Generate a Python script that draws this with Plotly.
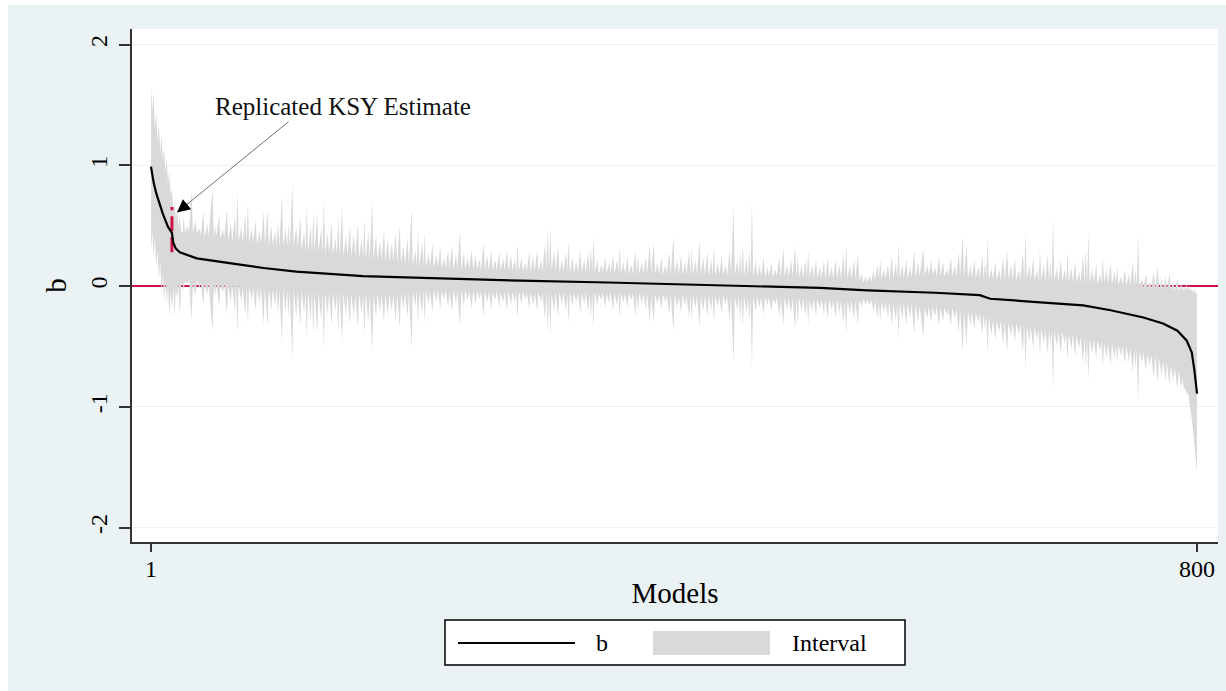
import plotly.graph_objects as go

# ---------------- data ----------------
x_ticks = [1, 800]
y_ticks = [-2, -1, 0, 1, 2]
y_tick_text = ["-2", "-1", "0", "1", "2"]

b_models = [1, 3, 5, 8, 10, 14, 16, 17, 18, 20, 23, 30, 36, 61, 87, 112, 138, 163, 189,
            216, 283, 350, 450, 512, 548, 600, 634, 642, 675, 713, 734, 759, 774, 785,
            792, 796, 798, 800]
b_values = [0.99, 0.86, 0.77, 0.67, 0.60, 0.49, 0.46, 0.44, 0.36, 0.31, 0.28, 0.25, 0.23,
            0.19, 0.15, 0.12, 0.10, 0.083, 0.075, 0.065, 0.045, 0.03, 0.005, -0.015,
            -0.035, -0.055, -0.075, -0.105, -0.13, -0.16, -0.20, -0.26, -0.31, -0.37,
            -0.45, -0.55, -0.70, -0.89]

# interval: first models (every model)
head_models = list(range(1, 26))
head_upper = [1.67, 1.45, 1.60, 1.30, 1.45, 1.20, 1.35, 1.10, 1.25, 1.05, 1.15, 0.95, 1.05,
              0.85, 0.95, 0.75, 0.80, 0.62, 0.70, 0.55, 0.65, 0.48, 0.60, 0.45, 0.44]
head_lower = [0.30, 0.45, 0.25, 0.40, 0.15, 0.30, 0.05, 0.20, -0.05, 0.10, -0.12, 0.05,
              -0.15, 0.00, -0.25, -0.05, -0.20, 0.00, -0.26, -0.02, -0.10, 0.02, -0.25,
              0.00, 0.03]

# interval: models with a wide interval (spikes)
spike_models = [
    26, 29, 32, 35, 38, 41, 44, 48, 50, 53, 56, 59, 62, 65, 67, 70, 73, 75, 78, 81, 84, 87,
    90, 93, 96, 98, 101,
    104, 106, 109, 112, 115, 118, 120, 123, 125, 128, 131, 133, 136, 139, 142, 144, 147,
    150, 153, 156, 159, 162, 164, 167, 170, 173, 176, 179, 182, 185, 188, 191, 194, 197, 200,
    203, 205, 208, 210, 213, 216, 219, 222, 225, 228, 231, 234, 237, 240, 243, 246, 249,
    252, 255, 258, 261, 264, 267, 270, 273, 276, 279, 281, 284, 287, 290, 293, 296, 299,
    302, 304, 306, 309, 312, 315, 318, 320, 323, 326, 329, 332, 335, 337, 339, 342, 345,
    348, 351, 354, 357, 359, 362, 365, 368, 371, 373, 376, 379, 382,
    385, 388, 391, 394, 397, 400, 403, 406, 409, 412, 414, 417, 420, 423, 426, 429, 431,
    434, 437, 440, 443, 446, 449, 451, 453, 456, 458, 460, 463, 466, 469, 472, 475, 478,
    481, 484, 487, 490, 493, 495, 498, 501, 503, 506, 509, 512, 515, 518, 521, 524, 527,
    530, 532, 535, 538, 541, 544, 547, 550, 553, 556, 558, 561, 564, 567, 570, 572, 575,
    578, 581, 584, 587,
    591, 594, 597, 600, 603, 606, 609, 612, 615, 618, 621, 624, 627, 630, 633, 636, 638,
    640, 643, 646, 649, 652, 655, 658, 661, 664, 667, 669, 672, 675, 678, 680, 683, 686,
    688, 690, 693, 696, 699, 701, 704, 707, 710, 713, 715, 717, 720, 723, 726, 728, 731,
    734, 737, 739, 742, 745, 748, 751, 753, 755, 758, 761, 764, 767, 770, 773, 776, 779,
    782, 785, 788]
spike_upper = [
    0.58, 0.50, 0.80, 0.55, 0.48, 0.62, 0.52, 0.82, 0.50, 0.60, 0.47, 0.64, 0.52, 0.58,
    0.78, 0.50, 0.60, 0.68, 0.48, 0.55, 0.46, 0.62, 0.63, 0.50, 0.45, 0.55, 0.74,
    0.48, 0.52, 0.86, 0.50, 0.58, 0.45, 0.66, 0.50, 0.62, 0.60, 0.48, 0.72, 0.44, 0.52,
    0.40, 0.58, 0.66, 0.42, 0.50, 0.44, 0.52, 0.40, 0.56, 0.46, 0.71, 0.42, 0.38, 0.46,
    0.40, 0.36, 0.44, 0.50, 0.34, 0.40, 0.65,
    0.30, 0.46, 0.36, 0.44, 0.28, 0.35, 0.26, 0.32, 0.24, 0.30, 0.34, 0.26, 0.46, 0.28,
    0.24, 0.30, 0.26, 0.22, 0.36, 0.25, 0.30, 0.22, 0.28, 0.24, 0.30, 0.26, 0.22, 0.36,
    0.24, 0.20, 0.28, 0.25, 0.30, 0.22, 0.36, 0.46, 0.50, 0.30, 0.34, 0.22, 0.28, 0.38,
    0.24, 0.20, 0.30, 0.22, 0.28, 0.32, 0.41, 0.22, 0.18, 0.24, 0.20, 0.26, 0.22, 0.33,
    0.20, 0.24, 0.18, 0.30, 0.26, 0.20, 0.24, 0.35,
    0.36, 0.20, 0.24, 0.18, 0.28, 0.42, 0.22, 0.26, 0.20, 0.30, 0.33, 0.22, 0.38, 0.24,
    0.28, 0.22, 0.33, 0.20, 0.26, 0.18, 0.30, 0.66, 0.22, 0.30, 0.36, 0.24, 0.30, 0.70,
    0.22, 0.18, 0.24, 0.16, 0.20, 0.14, 0.24, 0.32, 0.18, 0.22, 0.34, 0.26, 0.18, 0.22,
    0.30, 0.18, 0.22, 0.16, 0.20, 0.24, 0.16, 0.22, 0.18, 0.26, 0.34, 0.18, 0.22, 0.26,
    0.10, 0.08, 0.09, 0.14, 0.18, 0.22, 0.14, 0.18, 0.25, 0.20, 0.35, 0.18, 0.22, 0.16,
    0.30, 0.20,
    0.31, 0.18, 0.22, 0.16, 0.25, 0.20, 0.14, 0.24, 0.18, 0.28, 0.42, 0.35, 0.18, 0.22,
    0.16, 0.26, 0.20, 0.40, 0.15, 0.20, 0.14, 0.24, 0.30, 0.18, 0.22, 0.14, 0.28, 0.45,
    0.18, 0.24, 0.14, 0.30, 0.18, 0.26, 0.20, 0.57, 0.16, 0.22, 0.14, 0.28, 0.16, 0.20,
    0.12, 0.26, 0.30, 0.45, 0.14, 0.18, 0.10, 0.25, 0.14, 0.20, 0.12, 0.16, 0.08, 0.14,
    0.10, 0.20, 0.14, 0.44, 0.06, 0.10, 0.04, 0.12, 0.16, 0.06, 0.08, 0.10, 0.04, 0.06,
    0.02]
spike_lower = [
    -0.04, 0.02, -0.28, -0.08, -0.02, -0.16, -0.07, -0.38, -0.08, -0.18, -0.05, -0.24,
    -0.13, -0.20, -0.40, -0.13, -0.24, -0.32, -0.12, -0.21, -0.14, -0.32, -0.33, -0.20,
    -0.16, -0.26, -0.46,
    -0.22, -0.26, -0.60, -0.26, -0.34, -0.22, -0.43, -0.28, -0.40, -0.39, -0.28, -0.52,
    -0.24, -0.32, -0.21, -0.39, -0.47, -0.24, -0.32, -0.26, -0.35, -0.23, -0.40, -0.30,
    -0.55, -0.26, -0.22, -0.30, -0.25, -0.21, -0.29, -0.35, -0.19, -0.26, -0.51,
    -0.17, -0.32, -0.23, -0.31, -0.15, -0.22, -0.13, -0.19, -0.11, -0.18, -0.22, -0.14,
    -0.34, -0.16, -0.12, -0.19, -0.15, -0.11, -0.25, -0.14, -0.20, -0.12, -0.18, -0.14,
    -0.20, -0.16, -0.13, -0.27, -0.15, -0.11, -0.19, -0.16, -0.21, -0.14, -0.28, -0.38,
    -0.42, -0.22, -0.26, -0.15, -0.21, -0.31, -0.17, -0.13, -0.23, -0.15, -0.21, -0.26,
    -0.35, -0.16, -0.12, -0.18, -0.14, -0.20, -0.16, -0.27, -0.14, -0.18, -0.12, -0.25,
    -0.21, -0.15, -0.19, -0.30,
    -0.31, -0.15, -0.19, -0.13, -0.23, -0.38, -0.18, -0.22, -0.16, -0.26, -0.29, -0.18,
    -0.34, -0.21, -0.25, -0.19, -0.30, -0.17, -0.23, -0.15, -0.28, -0.64, -0.20, -0.28,
    -0.34, -0.22, -0.29, -0.69, -0.21, -0.18, -0.24, -0.16, -0.21, -0.15, -0.25, -0.33,
    -0.20, -0.23, -0.36, -0.32, -0.20, -0.24, -0.32, -0.21, -0.25, -0.19, -0.23, -0.27,
    -0.20, -0.26, -0.22, -0.31, -0.40, -0.23, -0.28, -0.32, -0.17, -0.15, -0.16, -0.21,
    -0.26, -0.30, -0.22, -0.26, -0.33, -0.29, -0.44, -0.27, -0.32, -0.26, -0.40, -0.30,
    -0.42, -0.27, -0.30, -0.25, -0.33, -0.29, -0.24, -0.33, -0.27, -0.38, -0.56, -0.48,
    -0.32, -0.36, -0.30, -0.40, -0.36, -0.57, -0.40, -0.44, -0.38, -0.48, -0.54, -0.42,
    -0.46, -0.40, -0.55, -0.70, -0.46, -0.52, -0.44, -0.58, -0.48, -0.56, -0.50, -0.86,
    -0.50, -0.56, -0.48, -0.62, -0.52, -0.58, -0.52, -0.64, -0.68, -0.78, -0.56, -0.60,
    -0.54, -0.68, -0.60, -0.66, -0.60, -0.64, -0.58, -0.64, -0.62, -0.72, -0.68, -0.95,
    -0.64, -0.70, -0.66, -0.76, -0.80, -0.74, -0.78, -0.82, -0.78, -0.85, -0.84]

# interval: the ordinary (narrow) models next to the spikes
base_models = [m + 1 for m in spike_models]
base_upper = [
    0.44, 0.45, 0.43, 0.44, 0.42, 0.40, 0.41, 0.40, 0.41, 0.39, 0.40, 0.38, 0.37, 0.38,
    0.37, 0.36, 0.37, 0.36, 0.36, 0.34, 0.35, 0.34, 0.33, 0.34, 0.33, 0.33, 0.33,
    0.32, 0.31, 0.32, 0.31, 0.30, 0.29, 0.29, 0.28, 0.29, 0.28, 0.28, 0.27, 0.27, 0.26,
    0.26, 0.25, 0.25, 0.25, 0.24, 0.24, 0.23, 0.23, 0.22, 0.22, 0.22, 0.21, 0.21, 0.21,
    0.20, 0.20, 0.19, 0.19, 0.18, 0.18, 0.17,
    0.16, 0.16, 0.16, 0.15, 0.16, 0.15, 0.16, 0.15, 0.15, 0.15, 0.14, 0.15, 0.14, 0.14,
    0.14, 0.14, 0.14, 0.13, 0.14, 0.13, 0.13, 0.13, 0.13, 0.13, 0.12, 0.13, 0.12, 0.12,
    0.12, 0.12, 0.12, 0.12, 0.12, 0.12, 0.13, 0.14, 0.13, 0.12, 0.11, 0.12, 0.12, 0.11,
    0.11, 0.11, 0.11, 0.11, 0.11, 0.11, 0.11, 0.10, 0.11, 0.10, 0.10, 0.10, 0.10, 0.10,
    0.10, 0.10, 0.10, 0.10, 0.10, 0.10, 0.10, 0.10,
    0.10, 0.10, 0.09, 0.10, 0.09, 0.10, 0.09, 0.09, 0.09, 0.09, 0.09, 0.09, 0.09, 0.09,
    0.09, 0.09, 0.09, 0.09, 0.09, 0.08, 0.09, 0.09, 0.08, 0.08, 0.08, 0.08, 0.08, 0.08,
    0.08, 0.08, 0.07, 0.08, 0.07, 0.08, 0.07, 0.08, 0.07, 0.08, 0.07, 0.07, 0.07, 0.07,
    0.07, 0.07, 0.07, 0.07, 0.06, 0.07, 0.06, 0.07, 0.06, 0.06, 0.06, 0.06, 0.06, 0.05,
    0.03, 0.03, 0.03, 0.05, 0.06, 0.06, 0.06, 0.06, 0.06, 0.06, 0.07, 0.06, 0.06, 0.07,
    0.07, 0.08,
    0.09, 0.09, 0.09, 0.08, 0.09, 0.08, 0.09, 0.08, 0.08, 0.08, 0.07, 0.07, 0.07, 0.07,
    0.07, 0.06, 0.06, 0.05, 0.05, 0.05, 0.05, 0.05, 0.05, 0.05, 0.05, 0.05, 0.05, 0.05,
    0.05, 0.05, 0.04, 0.05, 0.04, 0.04, 0.04, 0.04, 0.04, 0.04, 0.03, 0.03, 0.03, 0.03,
    0.03, 0.03, 0.03, 0.03, 0.03, 0.02, 0.02, 0.02, 0.02, 0.02, 0.02, 0.01, 0.01, 0.01,
    0.01, 0.00, 0.00, 0.00, -0.01, -0.01, -0.02, -0.02, -0.03, -0.03, -0.03, -0.03,
    -0.04, -0.04, -0.04]
base_lower = [
    0.04, 0.05, 0.03, 0.05, 0.03, 0.02, 0.03, 0.01, 0.02, 0.01, 0.02, 0.00, 0.01, 0.00,
    0.01, -0.01, 0.00, 0.00, -0.01, -0.02, -0.01, -0.02, -0.02, -0.03, -0.02, -0.03,
    -0.03,
    -0.03, -0.04, -0.03, -0.04, -0.04, -0.05, -0.04, -0.05, -0.05, -0.05, -0.06, -0.05,
    -0.06, -0.05, -0.06, -0.06, -0.06, -0.07, -0.06, -0.07, -0.06, -0.07, -0.06, -0.07,
    -0.07, -0.06, -0.07, -0.07, -0.06, -0.07, -0.06, -0.06, -0.05, -0.05, -0.04,
    -0.03, -0.04, -0.03, -0.03, -0.04, -0.03, -0.03, -0.04, -0.03, -0.04, -0.03, -0.04,
    -0.04, -0.03, -0.04, -0.04, -0.04, -0.04, -0.04, -0.04, -0.05, -0.04, -0.05, -0.05,
    -0.04, -0.05, -0.05, -0.04, -0.05, -0.05, -0.05, -0.05, -0.05, -0.05, -0.05, -0.06,
    -0.05, -0.05, -0.05, -0.05, -0.06, -0.05, -0.06, -0.05, -0.06, -0.05, -0.06, -0.06,
    -0.05, -0.06, -0.05, -0.06, -0.05, -0.06, -0.06, -0.05, -0.06, -0.06, -0.05, -0.06,
    -0.06, -0.06, -0.06, -0.07,
    -0.07, -0.07, -0.07, -0.08, -0.07, -0.07, -0.08, -0.07, -0.08, -0.07, -0.08, -0.07,
    -0.08, -0.08, -0.08, -0.08, -0.08, -0.08, -0.08, -0.08, -0.08, -0.09, -0.08, -0.09,
    -0.09, -0.09, -0.09, -0.09, -0.09, -0.09, -0.09, -0.09, -0.10, -0.09, -0.10, -0.09,
    -0.10, -0.10, -0.10, -0.10, -0.10, -0.10, -0.11, -0.10, -0.11, -0.11, -0.11, -0.11,
    -0.12, -0.11, -0.12, -0.12, -0.12, -0.12, -0.12, -0.12, -0.11, -0.11, -0.11, -0.12,
    -0.13, -0.13, -0.13, -0.13, -0.14, -0.14, -0.14, -0.14, -0.15, -0.15, -0.15, -0.16,
    -0.18, -0.17, -0.18, -0.17, -0.18, -0.18, -0.19, -0.18, -0.19, -0.20, -0.21, -0.21,
    -0.22, -0.22, -0.23, -0.23, -0.24, -0.26, -0.28, -0.29, -0.29, -0.30, -0.30, -0.31,
    -0.31, -0.32, -0.32, -0.33, -0.34, -0.34, -0.35, -0.35, -0.36, -0.36, -0.37, -0.37,
    -0.38, -0.38, -0.39, -0.40, -0.40, -0.41, -0.42, -0.42, -0.43, -0.44, -0.44, -0.45,
    -0.45, -0.46, -0.47, -0.47, -0.48, -0.49, -0.50, -0.50, -0.51, -0.52, -0.53, -0.54,
    -0.55, -0.56, -0.57, -0.58, -0.60, -0.62, -0.64, -0.66, -0.68, -0.71, -0.76]

# interval: last models (every model)
tail_models = list(range(790, 801))
tail_upper = [0.00, -0.04, 0.02, -0.04, 0.00, -0.04, -0.02, -0.05, -0.03, -0.06, -0.06]
tail_lower = [-0.86, -0.84, -0.90, -0.88, -0.95, -1.00, -1.10, -1.20, -1.32, -1.45, -1.55]

ksy_models = [17, 17]
ksy_interval = [0.28, 0.655]

assert len(head_models) == len(head_upper) == len(head_lower)
assert len(spike_models) == len(spike_upper) == len(spike_lower)
assert len(base_models) == len(base_upper) == len(base_lower)
assert len(tail_models) == len(tail_upper) == len(tail_lower)
assert len(b_models) == len(b_values)

# assemble the interval table sorted by model
rows = {}
for ms, us, ls in [(head_models, head_upper, head_lower),
                   (spike_models, spike_upper, spike_lower),
                   (base_models, base_upper, base_lower),
                   (tail_models, tail_upper, tail_lower)]:
    for m, u, l in zip(ms, us, ls):
        rows[m] = (u, l)
band_models = sorted(rows)
band_upper = [rows[m][0] for m in band_models]
band_lower = [rows[m][1] for m in band_models]

FONT = "Liberation Serif"
BG = "#EAF2F3"
RED = "#CC1448"
GREY = "#D9D9D9"

fig = go.Figure()

fig.add_trace(go.Scatter(
    x=band_models, y=band_lower, mode="lines", line=dict(width=0),
    hoverinfo="skip", showlegend=False, name="lower"))
fig.add_trace(go.Scatter(
    x=band_models, y=band_upper, mode="lines", line=dict(width=0),
    fill="tonexty", fillcolor=GREY, hoverinfo="skip", showlegend=False,
    name="Interval"))

fig.add_trace(go.Scatter(
    x=ksy_models, y=ksy_interval, mode="lines",
    line=dict(color=RED, width=3, dash="15px,6px"),
    name="KSY", showlegend=False))

fig.add_trace(go.Scatter(
    x=b_models, y=b_values, mode="lines",
    line=dict(color="black", width=2.2),
    name="b", showlegend=False))

shapes = [
    # white edge strips of the outer frame
    dict(type="rect", xref="paper", yref="paper", x0=-0.2, x1=-0.1142, y0=-0.4, y1=1.2,
         fillcolor="white", line=dict(width=0)),
    dict(type="rect", xref="paper", yref="paper", x0=-0.2, x1=1.2, y0=1.0468, y1=1.2,
         fillcolor="white", line=dict(width=0)),
    # legend frame and keys
    dict(type="rect", xref="paper", yref="paper", x0=0.2882, x1=0.7118, y0=-0.2398,
         y1=-0.1520, fillcolor="white", line=dict(color="black", width=1.5)),
    dict(type="line", xref="paper", yref="paper", x0=0.3002, x1=0.4079, y0=-0.1969,
         y1=-0.1969, line=dict(color="black", width=2)),
    dict(type="rect", xref="paper", yref="paper", x0=0.4797, x1=0.5875, y0=-0.2203,
         y1=-0.1735, fillcolor=GREY, line=dict(width=0)),
]

annotations = [
    dict(x=148, y=1.49, xref="x", yref="y", text="Replicated KSY Estimate",
         showarrow=False, xanchor="center", yanchor="middle",
         font=dict(family=FONT, size=25, color="#111111")),
    dict(x=20.9, y=0.61, xref="x", yref="y", text="", showarrow=True, arrowhead=0,
         arrowwidth=1, arrowcolor="#707070", ax=113, ay=-92, standoff=6),
    dict(x=20.9, y=0.61, xref="x", yref="y", text="", showarrow=True, arrowhead=2,
         arrowsize=2.6, arrowwidth=1, arrowcolor="black", ax=12, ay=-10),
    dict(x=0.4328, y=-0.1969, xref="paper", yref="paper", text="b", showarrow=False,
         xanchor="center", yanchor="middle",
         font=dict(family=FONT, size=24, color="black")),
    dict(x=0.6059, y=-0.1969, xref="paper", yref="paper", text="Interval",
         showarrow=False, xanchor="left", yanchor="middle",
         font=dict(family=FONT, size=24, color="black")),
]

fig.update_layout(
    width=1226, height=691,
    margin=dict(l=132, r=8, t=29, b=149),
    paper_bgcolor=BG, plot_bgcolor="white",
    font=dict(family=FONT, size=24, color="black"),
    showlegend=False,
    shapes=shapes, annotations=annotations,
    xaxis=dict(range=[-13.5, 816], tickvals=x_ticks, ticktext=[str(v) for v in x_ticks],
               ticks="outside", ticklen=8, tickwidth=1.5, tickcolor="#333333",
               ticklabelstandoff=-4,
               showline=True, linecolor="#333333", linewidth=1.8,
               showgrid=False, zeroline=False,
               title=dict(text="Models", standoff=2)),
    yaxis=dict(range=[-2.12, 2.13], tickvals=y_ticks, ticktext=y_tick_text, tickangle=-90,
               ticks="outside", ticklen=11, tickwidth=1.5, tickcolor="#333333",
               ticklabelstandoff=3,
               showline=True, linecolor="#333333", linewidth=1.8,
               showgrid=True, gridcolor=BG, gridwidth=1,
               zeroline=True, zerolinecolor=RED, zerolinewidth=1.5,
               title=dict(text="b", standoff=10)),
)

fig.write_html("out.html")
